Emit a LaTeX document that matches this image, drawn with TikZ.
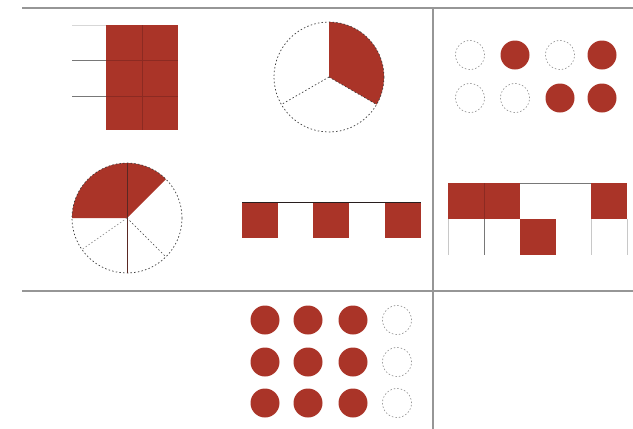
\documentclass[tikz,border=0pt]{standalone}
\begin{document}
\begin{tikzpicture}[x=1pt,y=-1pt,
  grid/.style={draw={rgb,255:red,150;green,150;blue,150},line width=1.3pt},
  fillc/.style={fill={rgb,255:red,170;green,52;blue,40}},
  dashc/.style={draw={rgb,255:red,60;green,60;blue,60},line width=0.7pt,dash pattern=on 1.5pt off 2.2pt},
  lightdash/.style={draw={rgb,255:red,140;green,140;blue,140},line width=0.6pt,dash pattern=on 1.5pt off 2pt},
  divline/.style={draw={rgb,255:red,90;green,40;blue,35},line width=0.8pt},
  thin/.style={draw={rgb,255:red,120;green,120;blue,120},line width=0.8pt},
  dot/.style={circle,minimum size=29pt,inner sep=0pt,fillc},
  edot/.style={circle,minimum size=29pt,inner sep=0pt,lightdash},
  sq/.style={rectangle,minimum width=36pt,minimum height=35.5pt,inner sep=0pt,fillc}]
\useasboundingbox (0,0) rectangle (633,429);
\fill[white] (0,0) rectangle (633,429);
% grid lines
\coordinate (tl) at (22,8); \coordinate (tr) at (633,8);
\coordinate (vt) at (433,8); \coordinate (vb) at (433,429);
\coordinate (bl) at (22,291); \coordinate (br) at (633,291);
\draw[grid] (tl) -- (tr);
\draw[grid] (vt) -- (vb);
\draw[grid] (bl) -- (br);

% panel 1: rectangle 6/6
\node[rectangle,fillc,minimum width=72pt,minimum height=105pt,inner sep=0pt,anchor=north west] (rect) at (106,25) {};
\coordinate (l1a) at (72,25); \coordinate (l1b) at (106,25);
\coordinate (l2a) at (72,60); \coordinate (l2b) at (178,60);
\coordinate (l3a) at (72,96); \coordinate (l3b) at (178,96);
\coordinate (vma) at (142,25); \coordinate (vmb) at (142,130);
\draw[draw={rgb,255:red,215;green,215;blue,215},line width=0.8pt] (l1a) -- (l1b);
\draw[thin] (l2a) -- (106,60);
\draw[thin] (l3a) -- (106,96);
\draw[draw={rgb,255:red,140;green,42;blue,34},line width=0.6pt] (106,60) -- (l2b) (106,96) -- (l3b) (vma) -- (vmb);

% panel 2: pie 1/3 (angles negated: y axis points down)
\coordinate (c2) at (329,77);
\fill[fillc] (c2) -- ++(-90:55) arc[start angle=-90,end angle=30,radius=55] -- cycle;
\draw[dashc] (c2) circle[radius=55];
\draw[dashc] (c2) -- ++(150:55);
\draw[dashc] (c2) -- ++(30:55);

% panel 3: dots
\node[edot] (d11) at (470,55) {};
\node[dot]  (d12) at (515,55) {};
\node[edot] (d13) at (560,55) {};
\node[dot]  (d14) at (602,55) {};
\node[edot] (d21) at (470,98) {};
\node[edot] (d22) at (515,98) {};
\node[dot]  (d23) at (560,98) {};
\node[dot]  (d24) at (602,98) {};

% panel 4: pie 3/8
\coordinate (c4) at (127,218);
\fill[fillc] (c4) -- ++(-45:55) arc[start angle=-45,end angle=-180,radius=55] -- cycle;
\draw[dashc] (c4) circle[radius=55];
\draw[divline] (c4) ++(-90:55) -- ++(90:110);
\draw[dashc] (c4) -- ++(45:55);
\draw[lightdash] (c4) -- ++(145:55);

% panel 5: three squares
\node[sq,anchor=north west] (s1) at (242,202) {};
\node[sq,anchor=north west] (s2) at (313,202) {};
\node[sq,anchor=north west] (s3) at (385,202) {};
\draw[draw={rgb,255:red,40;green,30;blue,30},line width=0.9pt] (s1.north west) -- (s3.north east);

% panel 6: staggered squares
\node[sq,anchor=north west] (t1) at (448,183) {};
\node[sq,anchor=north west] (t2) at (484,183) {};
\node[sq,anchor=north west] (t5) at (591,183) {};
\node[sq,anchor=north west] (b3) at (519.5,219) {};
\draw[thin] (t2.north east) -- (t5.north west);
\draw[draw={rgb,255:red,200;green,200;blue,200},line width=0.8pt] (t1.south west) -- ++(0,36);
\draw[thin] (t1.south east) -- ++(0,36);
\draw[draw={rgb,255:red,200;green,200;blue,200},line width=0.8pt] (t5.south west) -- ++(0,36);
\draw[draw={rgb,255:red,200;green,200;blue,200},line width=0.8pt] (t5.south east) -- ++(0,36);
\draw[draw={rgb,255:red,140;green,42;blue,34},line width=0.5pt] (t1.north east) -- (t1.south east);

% panel 7: 3x4 dots
\foreach \r/\y in {1/320,2/362,3/403}{
  \node[dot] (e\r1) at (265,\y) {};
  \node[dot] (e\r2) at (308,\y) {};
  \node[dot] (e\r3) at (353,\y) {};
  \node[edot] (e\r4) at (397,\y) {};
}
\end{tikzpicture}
\end{document}
